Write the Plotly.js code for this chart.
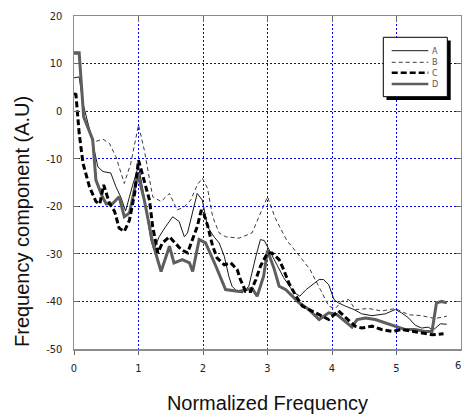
<!DOCTYPE html>
<html>
<head>
<meta charset="utf-8">
<script src="https://cdn.plot.ly/plotly-3.0.1.min.js"></script>
<style>html,body{margin:0;padding:0;background:#fff;}#chart{width:462px;height:414px;}</style>
</head>
<body>
<div id="chart"></div>
<script>
// ---- data ----
const seriesNames = ["A", "B", "C", "D"];

const aX = [0, 0.08, 0.14, 0.27, 0.37, 0.45, 0.57, 0.65, 0.73, 0.8, 0.9, 1.0, 1.1, 1.19, 1.24, 1.32, 1.42, 1.53, 1.63, 1.71, 1.76, 1.84, 1.91, 1.99, 2.07, 2.17, 2.25, 2.33, 2.4, 2.45, 2.53, 2.61, 2.71, 2.82, 2.89, 2.95, 3.02, 3.1, 3.25, 3.4, 3.5, 3.6, 3.7, 3.8, 3.87, 3.95, 4.03, 4.1, 4.21, 4.34, 4.46, 4.62, 4.83, 4.98, 5.08, 5.19, 5.29, 5.39, 5.49, 5.57, 5.68, 5.78];
const aY = [7, 7.2, 1.6, -5.4, -11.7, -12.7, -13, -15.9, -18.2, -21, -16, -11.5, -19, -27, -29.1, -26.4, -24.3, -22.2, -23.2, -26.4, -25.6, -21.4, -17.3, -18.7, -24.3, -26.4, -27.7, -30.5, -34.7, -36.8, -37.9, -38.2, -36.8, -30.5, -27, -27.2, -29, -31, -35, -38, -38.9, -37.5, -36.5, -35.4, -35.4, -36.5, -39.6, -40.3, -41, -41.7, -42.6, -43, -42.6, -41.7, -42.4, -43.5, -45, -45.6, -45.4, -46, -44.7, -44.8];

const bX = [0, 0.08, 0.15, 0.3, 0.45, 0.55, 0.65, 0.78, 0.88, 1.0, 1.09, 1.17, 1.22, 1.35, 1.48, 1.6, 1.71, 1.81, 1.91, 1.99, 2.07, 2.15, 2.25, 2.35, 2.56, 2.76, 2.87, 3.0, 3.12, 3.3, 3.5, 3.66, 3.82, 3.95, 4.05, 4.15, 4.26, 4.36, 4.57, 4.77, 4.98, 5.19, 5.39, 5.6, 5.78];
const bY = [12, 12, -1, -6.5, -5.9, -6.8, -9.6, -15.2, -11, -2.9, -8.2, -13.8, -18, -19, -17.3, -20.8, -20.1, -18.7, -15.5, -14.1, -16.2, -22.2, -25.6, -26.4, -26.7, -25.6, -22.2, -18, -22.5, -27.2, -30.5, -33.3, -37.5, -41, -41.5, -40, -39.6, -41.7, -41.5, -42, -41.5, -42.8, -43, -43.6, -43.1];

const cX = [0, 0.03, 0.08, 0.14, 0.24, 0.34, 0.40, 0.46, 0.55, 0.63, 0.70, 0.78, 0.86, 0.94, 1.0, 1.09, 1.17, 1.22, 1.30, 1.37, 1.48, 1.66, 1.76, 1.91, 1.97, 2.0, 2.07, 2.15, 2.22, 2.33, 2.43, 2.53, 2.58, 2.66, 2.74, 2.82, 2.89, 3.0, 3.07, 3.18, 3.25, 3.33, 3.43, 3.54, 3.69, 3.82, 3.95, 4.1, 4.23, 4.36, 4.46, 4.62, 4.77, 4.93, 5.08, 5.24, 5.39, 5.55, 5.73];
const cY = [3.7, 3.5, -4.6, -11, -15.9, -19, -19.5, -15.5, -19.4, -21.1, -24.6, -25.3, -22.9, -17.3, -10.3, -14.5, -18.7, -24.3, -29.8, -27.7, -26.4, -29.1, -29.8, -24.3, -21, -21, -24, -28.4, -30.9, -32.3, -31.9, -33.3, -35.4, -37.9, -37.9, -35.4, -32.6, -29.8, -29.8, -31.2, -33.3, -36.1, -38.6, -41, -42, -43, -43.8, -42, -43.5, -45.2, -45.6, -45.2, -45.9, -46.3, -45.9, -46.3, -46.6, -47, -46.8];

const dX = [0, 0.08, 0.15, 0.29, 0.34, 0.44, 0.5, 0.6, 0.7, 0.78, 0.86, 0.99, 1.09, 1.22, 1.35, 1.48, 1.55, 1.68, 1.79, 1.84, 1.94, 2.04, 2.2, 2.35, 2.56, 2.76, 2.84, 2.94, 3.0, 3.1, 3.18, 3.28, 3.49, 3.64, 3.8, 3.95, 4.08, 4.21, 4.31, 4.39, 4.52, 4.67, 4.83, 4.98, 5.13, 5.29, 5.44, 5.55, 5.62, 5.7, 5.78];
const dY = [12.3, 12.3, -1.2, -6, -14.5, -18, -19.5, -19.4, -18, -22.2, -21.4, -13.1, -18.7, -27.7, -33.7, -28.4, -31.9, -31.2, -31.9, -33.7, -27, -27.7, -32.6, -37.5, -37.9, -37.2, -38.9, -34.7, -29.3, -33, -36.8, -37.5, -40.3, -41.7, -43.8, -42.4, -42.8, -44.2, -45.4, -43.8, -43.5, -43.8, -44.5, -45.2, -45.9, -45.9, -46.3, -46.3, -40.3, -40, -40.3];

const xTicks = [0, 1, 2, 3, 4, 5, 6];
const yTicks = [-50, -40, -30, -20, -10, 0, 10, 20];

// ---- styles ----
const styles = {
  A: {color: "#1a1a1a", width: 1, dash: "solid"},
  B: {color: "#3a3a3a", width: 1, dash: "4px,3px"},
  C: {color: "#000000", width: 3, dash: "6px,3px"},
  D: {color: "#5e5e5e", width: 3, dash: "solid"}
};
const dataMap = {A: [aX, aY], B: [bX, bY], C: [cX, cY], D: [dX, dY]};
const drawOrder = ["B", "A", "D", "C"];

const traces = drawOrder.map(n => ({
  type: "scatter", mode: "lines", name: n,
  x: dataMap[n][0], y: dataMap[n][1],
  line: {color: styles[n].color, width: styles[n].width, dash: styles[n].dash},
  showlegend: false, hoverinfo: "skip"
}));

// invisible trace on top axis to make it render
traces.push({type: "scatter", mode: "lines", x: [0, 6], y: [null, null], xaxis: "x2", yaxis: "y", showlegend: false, hoverinfo: "skip"});

// ---- hand-drawn legend box (paper coords) ----
const L = 74, R = 461, T = 16, B = 349;
const px = v => (v - L) / (R - L);
const py = v => (B - v) / (B - T);
const shapes = [
  {type: "rect", xref: "paper", yref: "paper", x0: px(386.5), x1: px(450.7), y0: py(100), y1: py(40.5), fillcolor: "#000", line: {width: 0}, layer: "above"},
  {type: "rect", xref: "paper", yref: "paper", x0: px(383.3), x1: px(447.3), y0: py(96.7), y1: py(37.3), fillcolor: "#fff", line: {color: "#000", width: 1}, layer: "above"}
];
const rowY = [50.7, 62.3, 72.7, 84];
const annotations = [];
seriesNames.forEach((n, i) => {
  shapes.push({type: "line", xref: "paper", yref: "paper", x0: px(391.7), x1: px(428.3), y0: py(rowY[i]), y1: py(rowY[i]),
    line: {color: styles[n].color, width: styles[n].width === 3 ? 2.5 : 1, dash: styles[n].dash}, layer: "above"});
  annotations.push({xref: "paper", yref: "paper", x: px(434.5), y: py(rowY[i]), text: n, showarrow: false,
    xanchor: "center", yanchor: "middle", borderpad: 0,
    font: {family: "Liberation Sans Narrow, DejaVu Sans Condensed, sans-serif", size: 9, color: "#555"}});
});
annotations.push({xref: "paper", yref: "paper", x: px(22), y: py(222), text: "Frequency component (A.U)", textangle: -90,
  showarrow: false, xanchor: "center", yanchor: "middle", font: {family: "Liberation Sans, Arial, sans-serif", size: 20, color: "#111"}});
annotations.push({xref: "paper", yref: "paper", x: px(461.5), y: 0, yshift: -16, text: String(xTicks[6]), showarrow: false,
  xanchor: "right", yanchor: "middle", borderpad: 0, font: {family: "Liberation Sans Narrow, DejaVu Sans Condensed, sans-serif", size: 11, color: "#222"}});

const tickFont = {family: "Liberation Sans Narrow, DejaVu Sans Condensed, sans-serif", size: 11, color: "#222"};
const layout = {
  width: 462, height: 414,
  margin: {l: L, r: 462 - R, t: T, b: 414 - B},
  paper_bgcolor: "#fff", plot_bgcolor: "#fff",
  showlegend: false,
  xaxis: {
    range: [0, 6], tickvals: xTicks.slice(0, 6), ticktext: xTicks.slice(0, 6).map(String),
    showgrid: true, gridcolor: "#0000ff", gridwidth: 1, griddash: "2px,2px",
    zeroline: false, showline: true, linecolor: "#8c8c8c", linewidth: 1.5, mirror: true,
    ticks: "outside", ticklen: 4, tickcolor: "#666", tickwidth: 1,
    tickfont: tickFont, ticklabelstandoff: 4,
    title: {text: "Normalized Frequency", font: {family: "Liberation Sans, Arial, sans-serif", size: 20, color: "#111"}, standoff: 26}
  },
  xaxis2: {
    range: [0, 6], tickvals: xTicks, overlaying: "x", side: "top", showticklabels: false,
    showgrid: false, zeroline: false, showline: false,
    ticks: "inside", ticklen: 6, tickcolor: "#666", tickwidth: 1
  },
  yaxis: {
    range: [-50, 20], tickvals: yTicks, ticktext: yTicks.map(v => v < 0 ? "-" + Math.abs(v) : String(v)),
    showgrid: true, gridcolor: "#0000ff", gridwidth: 1, griddash: "2px,2px",
    zeroline: false, showline: true, linecolor: "#8c8c8c", linewidth: 1.5, mirror: "ticks",
    ticks: "inside", ticklen: 5, tickcolor: "#666", tickwidth: 1,
    tickfont: tickFont, ticklabelstandoff: 8
  },
  shapes: shapes,
  annotations: annotations
};

Plotly.newPlot("chart", traces, layout, {displayModeBar: false, staticPlot: true});
</script>
</body>
</html>
